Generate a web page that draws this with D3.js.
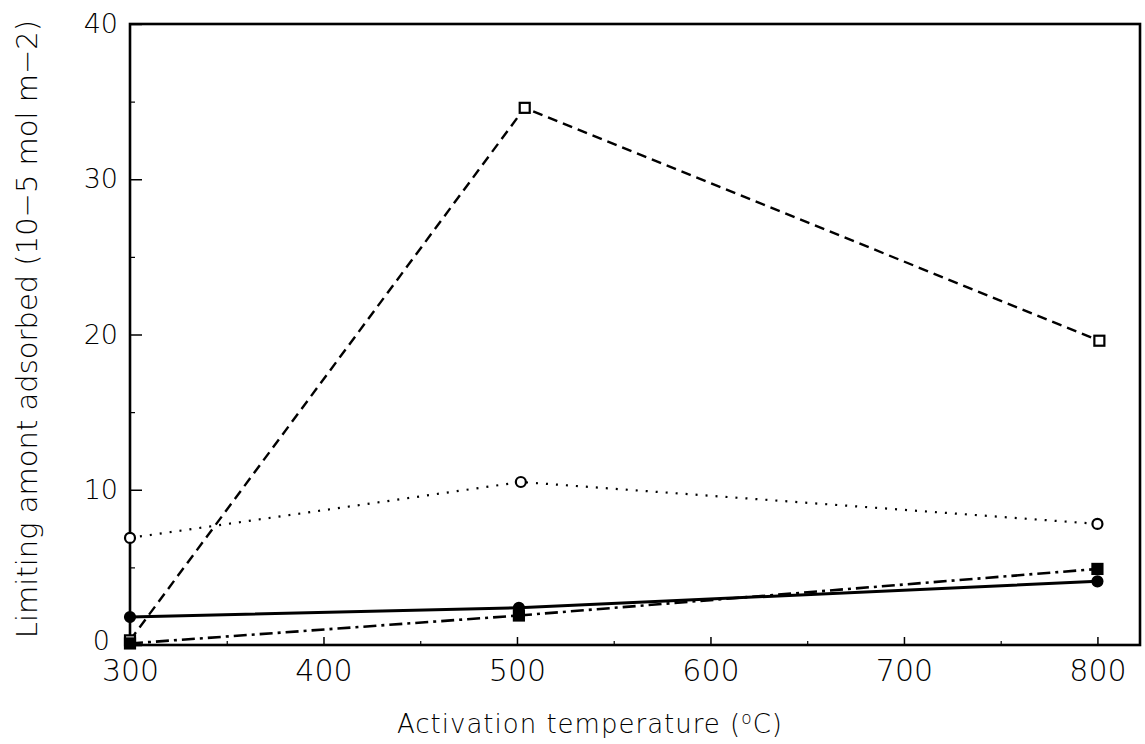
<!DOCTYPE html>
<html>
<head>
<meta charset="utf-8">
<script src="https://cdn.jsdelivr.net/npm/d3@7/dist/d3.min.js"></script>
<style>
  html, body { margin: 0; padding: 0; background: #fff; }
  svg { display: block; }
  text { font-family: "DejaVu Sans", sans-serif; fill: #000; }
</style>
</head>
<body>
<svg id="chart" width="1145" height="744"></svg>
<script>
// Activation temperatures (°C) for each sample set
const tempsOpenSquare   = [300, 504, 801];
const valuesOpenSquare  = [0.3, 34.6, 19.6];

const tempsOpenCircle   = [300, 502, 800];
const valuesOpenCircle  = [6.9, 10.5, 7.8];

const tempsFilledCircle = [300, 501, 800];
const valuesFilledCircle = [1.8, 2.4, 4.1];

const tempsFilledSquare = [300, 501, 800];
const valuesFilledSquare = [0.1, 1.9, 4.9];

const xTicks = [300, 400, 500, 600, 700, 800];
const xMinorTicks = [350, 450, 550, 650, 750];
const yTicks = [0, 10, 20, 30, 40];
const yMinorTicks = [5, 15, 25, 35];

const xTitle = "Activation temperature (";
const xTitleSup = "o";
const xTitleEnd = "C)";
const yTitle = "Limiting amont adsorbed (10\u22125 mol m\u22122)";

const svg = d3.select("#chart");
const plotLeft = 130, plotRight = 1140, plotTop = 24, plotBottom = 645;

const x = d3.scaleLinear().domain([300, 822]).range([plotLeft, plotRight]);
const y = d3.scaleLinear().domain([0, 40]).range([plotBottom, plotTop]);

// Frame
svg.append("rect")
  .attr("x", plotLeft).attr("y", plotTop)
  .attr("width", plotRight - plotLeft).attr("height", plotBottom - plotTop)
  .attr("fill", "none").attr("stroke", "#000").attr("stroke-width", 2.6);

// X axis: major ticks with labels, minor ticks pointing inward
const xAxis = svg.append("g").attr("transform", `translate(0,${plotBottom})`)
  .call(d3.axisBottom(x).tickValues(xTicks).tickSize(-8).tickPadding(15).tickFormat(d3.format("d")));
xAxis.select(".domain").remove();
xAxis.selectAll("line").attr("stroke-width", 1.5);
xAxis.selectAll("text").attr("font-size", 30).attr("font-family", "DejaVu Sans").attr("font-weight", 200).attr("fill", "#000");

const xMinor = svg.append("g").attr("transform", `translate(0,${plotBottom})`)
  .call(d3.axisBottom(x).tickValues(xMinorTicks).tickSize(-4).tickFormat(""));
xMinor.select(".domain").remove();
xMinor.selectAll("line").attr("stroke-width", 1.2);

// Y axis
const yAxis = svg.append("g").attr("transform", `translate(${plotLeft},0)`)
  .call(d3.axisLeft(y).tickValues(yTicks).tickSize(-12).tickPadding(12).tickFormat(d3.format("d")));
yAxis.select(".domain").remove();
yAxis.selectAll("line").attr("stroke-width", 1.5);
yAxis.selectAll("text").attr("font-size", 27).attr("font-family", "DejaVu Sans").attr("font-weight", 200).attr("fill", "#000");
// the zero label sits a little left and up, clear of the "300" below it
yAxis.selectAll(".tick").filter(d => d === 0).select("text")
  .attr("x", -20).attr("dy", "0.18em");

const yMinor = svg.append("g").attr("transform", `translate(${plotLeft},0)`)
  .call(d3.axisLeft(y).tickValues(yMinorTicks).tickSize(-5).tickFormat(""));
yMinor.select(".domain").remove();
yMinor.selectAll("line").attr("stroke-width", 1.2);

// Axis titles
const xt = svg.append("text")
  .attr("x", 590).attr("y", 733)
  .attr("text-anchor", "middle")
  .attr("font-size", 26).attr("font-weight", 200)
  .attr("letter-spacing", 1);
xt.append("tspan").text(xTitle);
xt.append("tspan").attr("font-size", 17).attr("dy", -9).text(xTitleSup);
xt.append("tspan").attr("dy", 9).text(xTitleEnd);

svg.append("text")
  .attr("transform", "translate(37,329) rotate(-90)")
  .attr("text-anchor", "middle")
  .attr("font-size", 29).attr("font-weight", 200)
  .text(yTitle);

// Series lines and markers
const series = [
  { t: tempsOpenSquare, v: valuesOpenSquare, dash: "10,6", width: 2.4, marker: "square", fill: "#fff" },
  { t: tempsOpenCircle, v: valuesOpenCircle, dash: "2,8", width: 2.2, marker: "circle", fill: "#fff" },
  { t: tempsFilledCircle, v: valuesFilledCircle, dash: null, width: 3, marker: "circle", fill: "#000" },
  { t: tempsFilledSquare, v: valuesFilledSquare, dash: "13,5,3,5", width: 2.6, marker: "square", fill: "#000" }
];

const line = d3.line().x(d => x(d[0])).y(d => y(d[1]));

series.forEach(s => {
  const pts = s.t.map((t, i) => [t, s.v[i]]);
  svg.append("path")
    .datum(pts)
    .attr("d", line)
    .attr("fill", "none")
    .attr("stroke", "#000")
    .attr("stroke-width", s.width)
    .attr("stroke-dasharray", s.dash);

  const g = svg.append("g");
  if (s.marker === "square") {
    g.selectAll("rect").data(pts).join("rect")
      .attr("x", d => x(d[0]) - 5).attr("y", d => y(d[1]) - 5)
      .attr("width", 10).attr("height", 10)
      .attr("fill", s.fill).attr("stroke", "#000").attr("stroke-width", 2.2);
  } else {
    g.selectAll("circle").data(pts).join("circle")
      .attr("cx", d => x(d[0])).attr("cy", d => y(d[1]))
      .attr("r", 5)
      .attr("fill", s.fill).attr("stroke", "#000").attr("stroke-width", 2.2);
  }
});
</script>
</body>
</html>
